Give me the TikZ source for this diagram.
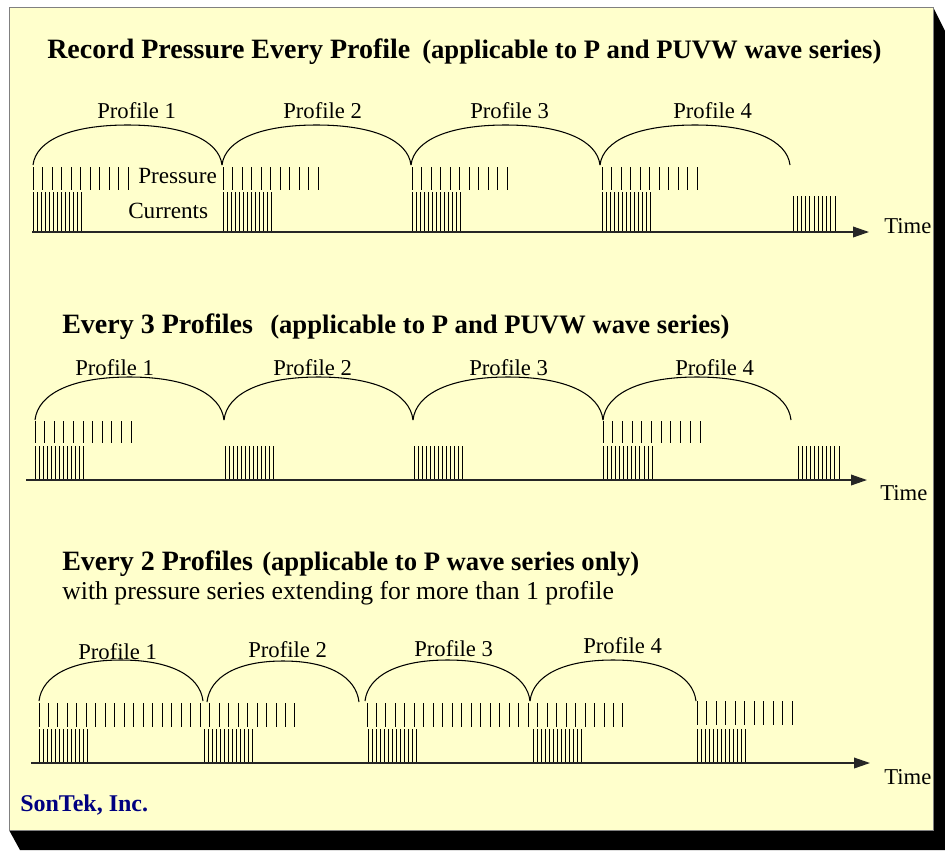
\documentclass[tikz,border=0pt]{standalone}
\usepackage{fontspec}
\setmainfont{Liberation Serif}
\usetikzlibrary{arrows.meta,calc}
\definecolor{panelfill}{HTML}{FFFFCC}
\definecolor{sontek}{HTML}{000080}
\newcommand\profarc[4]{\draw[arcline] (#1,#3) .. controls +(3,{-0.62*#4}) and +({-0.3*(#2-#1)},0) .. ({(#1+#2)/2},{#3-#4}) .. controls +({0.3*(#2-#1)},0) and +(-3,{-0.62*#4}) .. (#2,#3);}
\newcommand\tickrow[5]{\foreach \i in {1,...,#2} \draw[tickline] ({#1+(\i-1)*#3},#4) -- ({#1+(\i-1)*#3},#5);}
\begin{document}
\begin{tikzpicture}[x=0.75pt,y=-0.75pt,
  arcline/.style={line width=0.8pt},
  tickline/.style={line width=0.75pt},
  axisline/.style={line width=1.1pt,draw=black!85,-{Triangle[length=12pt,width=8pt]}},
  lbl/.style={anchor=base west,inner sep=0pt,font=\fontsize{17}{20}\selectfont},
  ttl/.style={anchor=base west,inner sep=0pt,font=\fontsize{21}{24}\selectfont\bfseries},
  sub/.style={anchor=base west,inner sep=0pt,font=\fontsize{20}{24}\selectfont\bfseries},
]
\useasboundingbox (0,0) rectangle (945,850);
\fill[white] (0,0) rectangle (945,850);
\fill[black] (933,7) -- (945,31) -- (945,850) -- (20,850) -- (9,830) -- cycle;
\draw[draw=gray,fill=panelfill,line width=0.6pt] (9,7) rectangle (933,830);

% ---------- Section 1 ----------
\node[ttl] (t1) at (47,58) {Record Pressure Every Profile};
\node[sub] (t1b) at (422,58) {(applicable to P and PUVW wave series)};
\node[lbl] (s1p1) at (97,118) {Profile 1};
\node[lbl] (s1p2) at (283,118) {Profile 2};
\node[lbl] (s1p3) at (470,118) {Profile 3};
\node[lbl] (s1p4) at (673,118) {Profile 4};
\profarc{33}{222}{165}{40}
\profarc{222}{411}{165}{40}
\profarc{411}{600}{165}{40}
\profarc{600}{790}{165}{40}
\tickrow{33}{11}{9.55}{167}{190}
\tickrow{223}{11}{9.55}{167}{190}
\tickrow{412}{11}{9.55}{167}{190}
\tickrow{602}{11}{9.55}{167}{190}
\tickrow{33}{13}{4}{192}{231}
\tickrow{223}{13}{4}{192}{231}
\tickrow{412}{13}{4}{192}{231}
\tickrow{602}{13}{4}{192}{231}
\tickrow{793}{11}{4.2}{196}{231}
\node[anchor=base west,inner sep=0pt,font=\fontsize{17.4}{20}\selectfont] (press) at (138,183) {Pressure};
\node[anchor=base west,inner sep=0pt,font=\fontsize{17.4}{20}\selectfont] (curr) at (128,218) {Currents};
\coordinate (a1s) at (32,232);
\coordinate (a1e) at (869,232);
\draw[axisline] (a1s) -- (a1e);
\node[lbl] (time1) at (884,233) {Time};

% ---------- Section 2 ----------
\node[ttl] (t2) at (62,333) {Every 3 Profiles};
\node[sub] (t2b) at (270,333) {(applicable to P and PUVW wave series)};
\node[lbl] (s2p1) at (75,375) {Profile 1};
\node[lbl] (s2p2) at (273,375) {Profile 2};
\node[lbl] (s2p3) at (469,375) {Profile 3};
\node[lbl] (s2p4) at (675,375) {Profile 4};
\profarc{35}{224}{420}{43}
\profarc{224}{413}{420}{43}
\profarc{413}{603}{420}{43}
\profarc{603}{791}{420}{43}
\tickrow{35}{11}{9.6}{421}{443}
\tickrow{603}{11}{9.7}{421}{443}
\tickrow{35}{13}{4}{446}{479}
\tickrow{225}{13}{4}{446}{479}
\tickrow{414}{13}{4}{446}{479}
\tickrow{603}{13}{4.1}{446}{479}
\tickrow{798}{11}{4.1}{446}{479}
\coordinate (a2s) at (26,480);
\coordinate (a2e) at (867,480);
\draw[axisline] (a2s) -- (a2e);
\node[lbl] (time2) at (880,500) {Time};

% ---------- Section 3 ----------
\node[ttl] (t3) at (62,570) {Every 2 Profiles};
\node[sub] (t3b) at (262,570) {(applicable to P wave series only)};
\node[anchor=base west,inner sep=0pt,font=\fontsize{19.3}{22}\selectfont] (t3c) at (62,599) {with pressure series extending for more than 1 profile};
\node[lbl] (s3p1) at (78,659) {Profile 1};
\node[lbl] (s3p2) at (248,657) {Profile 2};
\node[lbl] (s3p3) at (414,656) {Profile 3};
\node[lbl] (s3p4) at (583,653) {Profile 4};
\profarc{39}{203}{701}{41}
\profarc{207}{359}{702}{41}
\profarc{365}{530}{701}{41}
\profarc{530}{696}{701}{41}
\tickrow{39}{28}{9.48}{703}{727}
\tickrow{367}{28}{9.48}{703}{727}
\tickrow{697}{11}{9.5}{701}{725}
\tickrow{39}{13}{4}{729}{763}
\tickrow{204}{13}{4}{729}{763}
\tickrow{368}{13}{4}{729}{763}
\tickrow{533}{13}{4}{729}{763}
\tickrow{697}{13}{4}{729}{763}
\coordinate (a3s) at (31,763);
\coordinate (a3e) at (870,763);
\draw[axisline] (a3s) -- (a3e);
\node[lbl] (time3) at (884,784) {Time};

\node[anchor=base west,inner sep=0pt,font=\fontsize{18}{21}\selectfont\bfseries,text=sontek] (logo) at (20,811) {SonTek, Inc.};
\end{tikzpicture}
\end{document}
